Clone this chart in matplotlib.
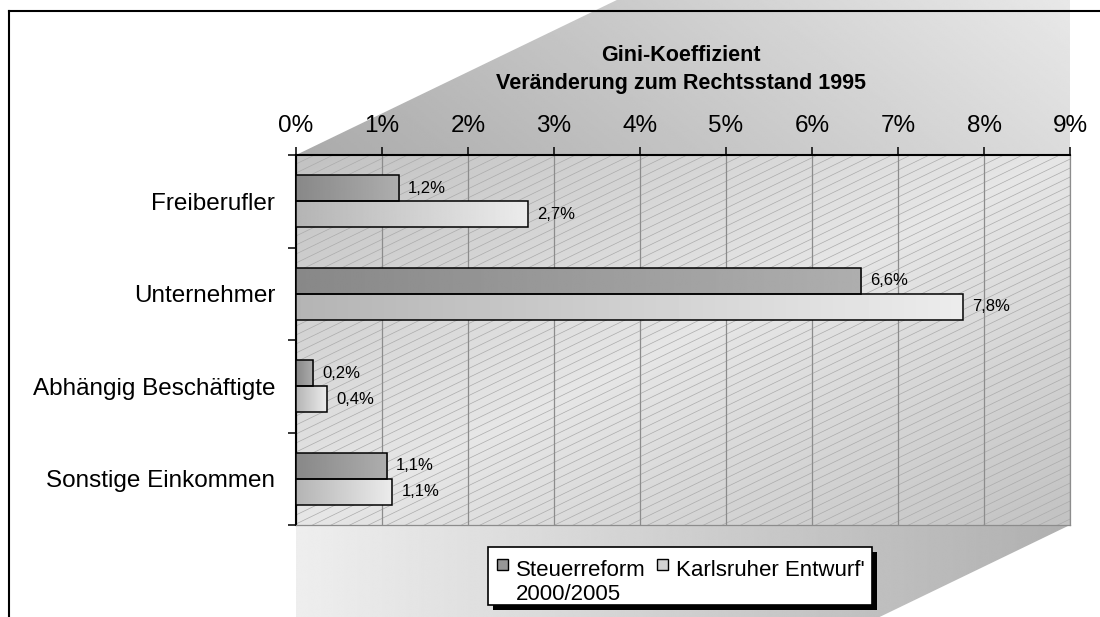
import numpy as np
import matplotlib
matplotlib.use('Agg')
import matplotlib.pyplot as plt
from matplotlib.patches import Polygon, Rectangle

plt.rcParams['font.family'] = ['Liberation Sans', 'DejaVu Sans']

# data
categories = ['Freiberufler', 'Unternehmer', 'Abhängig Beschäftigte', 'Sonstige Einkommen']
series_names = ['Steuerreform\n2000/2005', "Karlsruher Entwurf'"]
steuerreform = [1.2, 6.57, 0.2, 1.06]
karlsruhe = [2.7, 7.76, 0.36, 1.12]
xticks = list(range(0, 10))
title_lines = ['Gini-Koeffizient', 'Veränderung zum Rechtsstand 1995']

W, H = 1100, 617
fig = plt.figure(figsize=(11, 6.17), dpi=100)

# background layer in pixel coords
bg = fig.add_axes([0, 0, 1, 1], zorder=0)
bg.set_xlim(0, W)
bg.set_ylim(H, 0)
bg.axis('off')

L, R, T, B = 296, 1070, 155, 525   # plot area in px
DX = 2.07                           # depth slant (px x per px y)


def grad_fill(ax, poly, func, extent, zorder=1):
    x0, x1, y0, y1 = extent
    X, Y = np.meshgrid(np.linspace(0, 1, 300), np.linspace(0, 1, 300))
    Z = func(X, Y)
    im = ax.imshow(Z, cmap='gray', vmin=0, vmax=255, extent=(x0, x1, y1, y0),
                   origin='upper', aspect='auto', interpolation='bilinear', zorder=zorder)
    p = Polygon(poly, closed=True, facecolor='none', edgecolor='none')
    ax.add_patch(p)
    im.set_clip_path(p)
    return p


# back wall above plot area
grad_fill(bg, [(L, T), (L + T * DX, 0), (R, 0), (R, T)],
          lambda X, Y: 170 + 62 * (0.8 * X + 0.2 * (1 - Y)), (L, R, 0, T))
# plot area
area = grad_fill(bg, [(L, T), (R, T), (R, B), (L, B)],
                 lambda X, Y: 230 - 36 * np.abs(X + Y - 1), (L, R, T, B))
# floor
grad_fill(bg, [(L, B), (R, B), (R - (H - B) * DX, H), (L, H)],
          lambda X, Y: 238 - 62 * X, (L, R, B, H))

# hatch lines in plot area
for c in np.arange(T, B + (R - L) / DX + 10, 9):
    ln, = bg.plot([L, R], [c, c - (R - L) / DX], color='#ababab', lw=0.5, zorder=2)
    ln.set_clip_path(area)

# outer frame
bg.plot([9, 9], [H, 11], color='black', lw=1.5, zorder=5, solid_capstyle='projecting')
bg.plot([9, W], [11, 11], color='black', lw=1.5, zorder=5, solid_capstyle='projecting')

# title
fig.text(681 / W, 1 - 61 / H, title_lines[0], ha='center', va='baseline', fontsize=15.5, weight='bold')
fig.text(681 / W, 1 - 89 / H, title_lines[1], ha='center', va='baseline', fontsize=15.5, weight='bold')

# main axes
ax = fig.add_axes([L / W, 1 - B / H, (R - L) / W, (B - T) / H], zorder=1)
ax.patch.set_alpha(0)

idx = np.arange(len(categories))
h = 0.28
series = [(steuerreform, -h / 2, (136, 174)), (karlsruhe, h / 2, (180, 236))]
for vals, off, (c0, c1) in series:
    bars = ax.barh(idx + off, vals, height=h, facecolor='none', edgecolor='black', lw=1.1, zorder=4)
    for b in bars:
        g = np.linspace(c0, c1, 200).reshape(1, -1)
        y = b.get_y()
        im = ax.imshow(g, cmap='gray', vmin=0, vmax=255, aspect='auto', zorder=3,
                       extent=(0, b.get_width(), y + h, y), interpolation='bilinear')
        im.set_clip_path(b)
    for v, yy in zip(vals, idx + off):
        ax.annotate(f"{v:.1f}".replace('.', ',') + '%', (v, yy), xytext=(6.5, 0),
                    textcoords='offset points', va='center', ha='left', fontsize=12)

ax.set_xlim(0, 9)
ax.set_ylim(len(categories) - 0.5, -0.5)

ax.xaxis.tick_top()
ax.set_xticks(xticks)
ax.set_xticklabels([f"{t}%" for t in xticks])
ax.tick_params(axis='x', direction='out', length=6, width=1.1, labelsize=17.5, pad=7)
ax.set_yticks(idx)
ax.set_yticklabels(categories, fontsize=17.5)
ax.set_yticks(np.arange(-0.5, len(categories), 1), minor=True)
ax.tick_params(axis='y', which='major', length=0, pad=15)
ax.tick_params(axis='y', which='minor', length=6, width=1.1, direction='out')

ax.grid(axis='x', color='#8c8c8c', lw=0.9)
ax.set_axisbelow(True)
for s in ['top', 'left']:
    ax.spines[s].set_color('black')
    ax.spines[s].set_linewidth(1.5)
for s in ['right', 'bottom']:
    ax.spines[s].set_color('#8c8c8c')
    ax.spines[s].set_linewidth(0.9)

# legend box with shadow
bg.add_patch(Rectangle((493, 552), 384, 58, facecolor='black', edgecolor='none', zorder=6))
bg.add_patch(Rectangle((488, 547), 384, 58, facecolor='white', edgecolor='black', lw=1.2, zorder=7))
leg_x = [497, 657]
leg_cols = ['#979797', '#d2d2d2']
for name, x, col in zip(series_names, leg_x, leg_cols):
    bg.add_patch(Rectangle((x, 559), 11, 11, facecolor=col, edgecolor='black', lw=1.0, zorder=8))
    for i, line in enumerate(name.split('\n')):
        bg.text(x + 19, 576 + 24 * i, line, va='baseline', ha='left', fontsize=16, zorder=8)

fig.savefig('out.png', dpi=100)
